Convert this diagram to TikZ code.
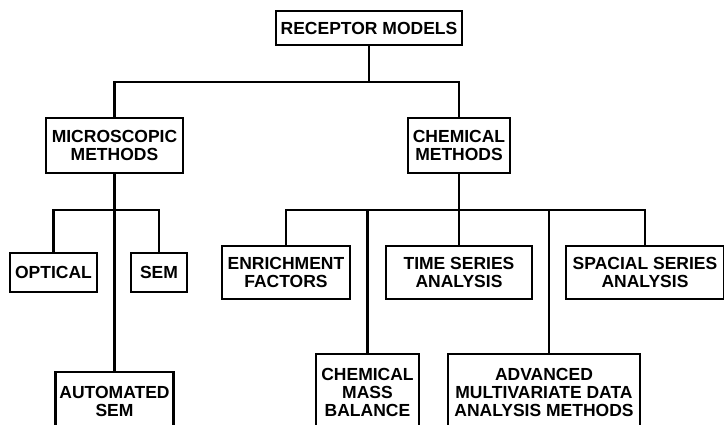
\documentclass[tikz,border=0pt]{standalone}
\usepackage{fontspec}
\setmainfont{Liberation Sans}
\begin{document}
\begin{tikzpicture}[x=1pt,y=-1pt,
  box/.style={draw, line width=2.6pt, rectangle, inner sep=0.5pt, align=center,
    font=\bfseries\fontsize{17.5}{18}\selectfont},
  link/.style={line width=2.6pt}]
\useasboundingbox (0,0) rectangle (724,425);
\node[box, minimum width=186, minimum height=34] (rec) at (369,28) {RECEPTOR MODELS};
\node[box, minimum width=137, minimum height=55] (micro) at (114.5,145.5) {MICROSCOPIC\\METHODS};
\node[box, minimum width=102, minimum height=55] (chem) at (459,145.5) {CHEMICAL\\METHODS};
\node[box, minimum width=87, minimum height=39] (opt) at (53.5,272.5) {OPTICAL};
\node[box, minimum width=56, minimum height=39] (sem) at (159,272.5) {SEM};
\node[box, minimum width=118, minimum height=58] (auto) at (114.5,401) {AUTOMATED\\SEM};
\node[box, minimum width=128, minimum height=53] (enr) at (286,272.5) {ENRICHMENT\\FACTORS};
\node[box, minimum width=146, minimum height=53] (time) at (459,272.5) {TIME SERIES\\ANALYSIS};
\node[box, minimum width=158, minimum height=53] (spa) at (645,272.5) {SPACIAL SERIES\\ANALYSIS};
\node[box, minimum width=103, minimum height=76] (cmb) at (367.5,392) {CHEMICAL\\MASS\\BALANCE};
\node[box, minimum width=192, minimum height=76] (adv) at (544,392) {ADVANCED\\MULTIVARIATE DATA\\ANALYSIS METHODS};
\coordinate (j1) at (369,82);
\coordinate (j2) at (114.5,210);
\coordinate (j3) at (459,210);
\draw[link] (rec.south) -- (j1);
\draw[link] (micro.north) |- (j1) -| (chem.north);
\draw[link] (micro.south) -- (auto.north);
\draw[link] (opt.north) |- (j2) -| (sem.north);
\draw[link] (chem.south) -- (time.north);
\draw[link] (enr.north) |- (j3) -| (spa.north);
\draw[link] (cmb.north) -- (cmb.north |- j3);
\draw[link] ([xshift=5pt]adv.north) -- ([xshift=5pt]adv.north |- j3);
\end{tikzpicture}
\end{document}
